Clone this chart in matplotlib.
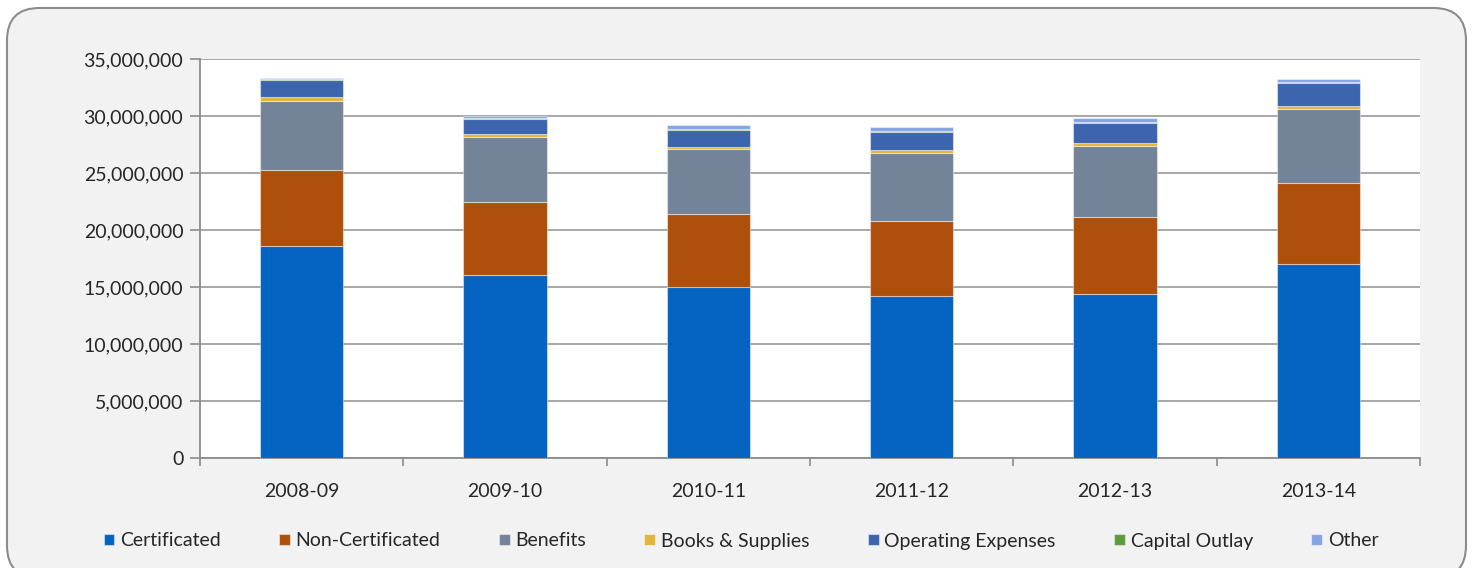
import numpy as np
import matplotlib.pyplot as plt
from matplotlib.patches import FancyBboxPatch
from matplotlib.ticker import FuncFormatter

years = ["2008-09", "2009-10", "2010-11", "2011-12", "2012-13", "2013-14"]

# values in dollars
certificated = [18570000, 16020000, 14970000, 14240000, 14360000, 16990000]
non_certificated = [6700000, 6480000, 6460000, 6520000, 6750000, 7100000]
benefits = [6080000, 5690000, 5650000, 6020000, 6290000, 6550000]
books_supplies = [300000, 230000, 230000, 240000, 260000, 260000]
operating = [1540000, 1340000, 1430000, 1610000, 1750000, 1970000]
capital_outlay = [20000, 100000, 120000, 50000, 90000, 80000]
other = [130000, 160000, 320000, 360000, 320000, 320000]

series = [
    ("Certificated", certificated, "#0563C1"),
    ("Non-Certificated", non_certificated, "#AE4F0C"),
    ("Benefits", benefits, "#748498"),
    ("Books & Supplies", books_supplies, "#E3B53A"),
    ("Operating Expenses", operating, "#3C65AE"),
    ("Capital Outlay", capital_outlay, "#62993E"),
    ("Other", other, "#86A4E4"),
]

plt.rcParams['font.family'] = ['Lato', 'DejaVu Sans']

fig = plt.figure(figsize=(14.73, 5.68), dpi=100)
fig.patch.set_facecolor("white")

# rounded chart frame (bottom edge runs past the image)
frame = FancyBboxPatch((7 / 1473, -10 / 568), 1459 / 1473, 570 / 568,
                       boxstyle="round,pad=0,rounding_size=0.022",
                       transform=fig.transFigure, facecolor="#F2F2F2",
                       edgecolor="#8C8C8C", linewidth=1.5,
                       mutation_aspect=1473 / 568, zorder=-10)
fig.patches.append(frame)

ax = fig.add_axes([200 / 1473, 1 - 458 / 568, 1220 / 1473, 399 / 568])
ax.set_facecolor("white")

x = np.arange(len(years))
bottom = np.zeros(len(years))
for name, vals, color in series:
    vals = np.array(vals, dtype=float)
    ax.bar(x, vals, width=0.41, bottom=bottom, color=color, label=name,
           edgecolor=(1, 1, 1, 0.45), linewidth=0.8, zorder=3)
    bottom += vals

ax.set_xlim(-0.5, len(years) - 0.5)
ax.set_ylim(0, 35000000)
ax.set_yticks(np.arange(0, 35000001, 5000000))
ax.yaxis.set_major_formatter(FuncFormatter(lambda v, p: f"{int(v):,}"))
ax.grid(axis="y", color="#A0A0A0", linewidth=1.3, zorder=0)

ax.set_xticks(x)
ax.set_xticklabels(years)
ax.set_xticks(np.arange(-0.5, len(years), 1), minor=True)
ax.tick_params(axis="x", which="major", length=0, pad=18, labelsize=14,
               labelcolor="#262626")
ax.tick_params(axis="x", which="minor", length=6, width=1.2, color="#8C8C8C")
ax.tick_params(axis="y", length=7, width=1.2, color="#8C8C8C", labelsize=14,
               labelcolor="#262626", pad=5)

for s in ["top", "right"]:
    ax.spines[s].set_visible(False)
for s in ["left", "bottom"]:
    ax.spines[s].set_color("#8C8C8C")
    ax.spines[s].set_linewidth(1.3)

leg = fig.legend(loc="center", bbox_to_anchor=(0.503, 1 - 541 / 568), ncol=7,
                 frameon=False, fontsize=14, handlelength=0.55,
                 handleheight=0.55, handletextpad=0.3, columnspacing=3.0,
                 labelcolor="#262626")

fig.savefig("out.png", dpi=100, facecolor=fig.get_facecolor())
